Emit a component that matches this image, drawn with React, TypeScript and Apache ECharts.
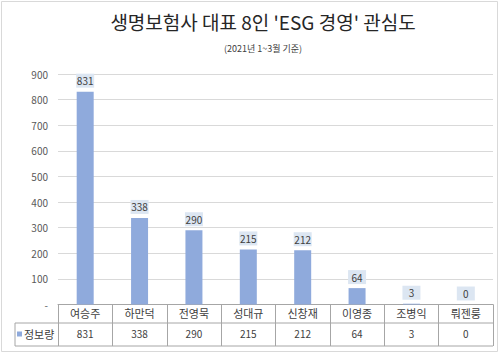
import React, { useEffect, useRef } from "react";
import * as echarts from "echarts";

const categories = ["여승주", "하만덕", "전영묵", "성대규", "신창재", "이영종", "조병익", "뤄젠룽"];
const values = [831, 338, 290, 215, 212, 64, 3, 0];
const seriesName = "정보량";
const titleText = "생명보험사 대표 8인 'ESG 경영' 관심도";
const subtitleText = "(2021년 1~3월 기준)";
const yMax = 900;
const yInterval = 100;

const FONT = "'Noto Sans CJK KR', 'Noto Sans', sans-serif";

export default function App() {
  const ref = useRef<HTMLDivElement>(null);
  useEffect(() => {
    if (!ref.current) return;
    const chart = echarts.init(ref.current, null, { renderer: "svg" });
    const gridLeft = 58;
    const gridRight = 493;
    const gridTop = 74;
    const gridBottomY = 304.5;
    const row1 = 323;
    const row2 = 346;
    const legendLeft = 15;
    const lineColor = "#a6a6a6";
    chart.setOption({
      animation: false,
      backgroundColor: "#fff",
      textStyle: { fontFamily: FONT },
      title: [
        {
          text: titleText,
          left: 258,
          textAlign: "center",
          top: 7,
          textStyle: { fontSize: 19, fontWeight: "normal", color: "#262626", fontFamily: FONT },
        },
        {
          text: subtitleText,
          left: 258,
          textAlign: "center",
          top: 39,
          textStyle: { fontSize: 9, fontWeight: "normal", color: "#404040", fontFamily: FONT },
        },
      ],
      legend: {
        left: legendLeft,
        top: row1 + 4,
        padding: [0, 0, 0, 2],
        itemWidth: 5,
        itemHeight: 5,
        itemGap: 2,
        icon: "rect",
        data: [seriesName],
        textStyle: { fontSize: 11, color: "#404040", fontFamily: FONT, padding: [0, 0, 0, -3], lineHeight: 14 },
      },
      grid: {
        left: gridLeft,
        right: 500 - gridRight,
        top: gridTop,
        bottom: 363 - gridBottomY,
        containLabel: false,
      },
      xAxis: [
        {
          type: "category",
          data: categories,
          position: "bottom",
          axisLine: { show: true, lineStyle: { color: lineColor, width: 1 } },
          axisTick: { show: true, length: row2 - gridBottomY, lineStyle: { color: lineColor } },
          axisLabel: { margin: 3, fontSize: 11, color: "#404040", fontFamily: FONT, interval: 0 },
        },
        {
          type: "category",
          data: values.map((v) => String(v)),
          position: "bottom",
          offset: row1 - gridBottomY,
          axisLine: { show: false },
          axisTick: { show: false },
          axisLabel: { margin: 5, fontSize: 10, color: "#404040", fontFamily: FONT, interval: 0 },
        },
      ],
      yAxis: {
        type: "value",
        min: 0,
        max: yMax,
        interval: yInterval,
        axisLine: { show: false },
        axisTick: { show: false },
        splitLine: { lineStyle: { color: "#d9d9d9", width: 1 } },
        axisLabel: {
          margin: 10,
          fontSize: 10,
          color: "#595959",
          fontFamily: FONT,
          formatter: (v: number) => (v === 0 ? "-" : String(v)),
        },
      },
      series: [
        {
          name: seriesName,
          type: "bar",
          data: values,
          barWidth: 17,
          itemStyle: { color: "#8FAADC" },
          label: {
            show: true,
            position: "top",
            distance: 4,
            fontSize: 10,
            color: "#404040",
            fontFamily: FONT,
            backgroundColor: "#DCE6F2",
            padding: [2, 2],
            width: 14,
            align: "center",
          },
        },
      ],
      graphic: [
        {
          type: "rect",
          shape: { x: 1.5, y: 1.5, width: 496, height: 350 },
          style: { fill: "none", stroke: "#d9d9d9", lineWidth: 1 },
          silent: true,
          z: -1,
        },
        {
          type: "line",
          shape: { x1: legendLeft, y1: row1, x2: gridRight, y2: row1 },
          style: { stroke: lineColor, lineWidth: 1 },
          silent: true,
        },
        {
          type: "line",
          shape: { x1: legendLeft, y1: row2, x2: gridRight, y2: row2 },
          style: { stroke: lineColor, lineWidth: 1 },
          silent: true,
        },
        {
          type: "line",
          shape: { x1: legendLeft, y1: row1, x2: legendLeft, y2: row2 },
          style: { stroke: lineColor, lineWidth: 1 },
          silent: true,
        },
      ],
    });
    return () => chart.dispose();
  }, []);
  return <div ref={ref} style={{ width: 500, height: 363, position: "absolute", left: 0, top: 0 }} />;
}
